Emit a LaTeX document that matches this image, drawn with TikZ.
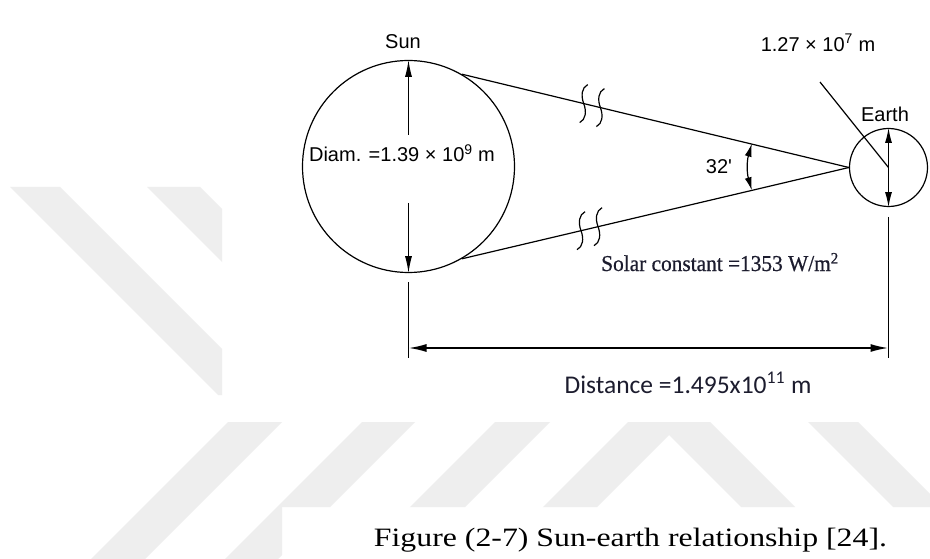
\documentclass[tikz,border=0pt]{standalone}
\usepackage{fontspec}
\setmainfont{Liberation Serif}
\newfontfamily\arialf{Liberation Sans}
\newfontfamily\calibf{Carlito}
\newfontfamily\capf[FakeStretch=1.2]{Liberation Serif}
\newfontfamily\solf[FakeStretch=0.94,FakeBold=0.6]{Liberation Serif}
\usetikzlibrary{arrows.meta}
\definecolor{wm}{HTML}{EEEEEE}
\definecolor{ink}{HTML}{1C1C2E}
\tikzset{
  lbl/.style={font=\arialf\fontsize{20}{24}\selectfont, inner sep=0pt, text=black},
  ln/.style={line width=1.2pt, black},
  dimarrow/.style={ln, -{Latex[length=17pt,width=7pt]}},
  brk/.pic={\draw[line width=1.2pt] (4,-19) .. controls (-2,-16) and (-3,-8) .. (0,0) .. controls (3,8) and (2,16) .. (-4,19);}
}
\begin{document}
\begin{tikzpicture}[x=1pt,y=-1pt]
\useasboundingbox (0,0) rectangle (930,559);
\fill[white] (0,0) rectangle (930,559);
% watermark
\begin{scope}
  \clip (0,187) rectangle (222,395);
  \fill[wm] (10,187) -- (60,187) -- (268,395) -- (218,395) -- cycle;
  \fill[wm] (147,187) -- (200,187) -- (408,395) -- (355,395) -- cycle;
\end{scope}
\begin{scope}
  \clip (0,422) rectangle (930,507) (0,507) rectangle (282,560);
  \fill[wm] (228,422) -- (282,422) -- (145,559) -- (91,559) -- cycle;
  \fill[wm] (362,422) -- (415,422) -- (278,559) -- (225,559) -- cycle;
  \fill[wm] (495,422) -- (550,422) -- (413,559) -- (358,559) -- cycle;
  \fill[wm] (669,381) -- (888,600) -- (834,600) -- (669,435) -- (504,600) -- (450,600) -- cycle;
  \fill[wm] (808,422) -- (858,422) -- (995,559) -- (945,559) -- cycle;
\end{scope}

% bodies
\node[ln, draw, circle, minimum size=212pt, inner sep=0pt] (sun) at (408.5,166.5) {};
\node[ln, draw, circle, minimum size=78pt, inner sep=0pt] (earth) at (888.5,167.5) {};
\coordinate (apex) at (earth.west);

% labels
\node[lbl] (sunlbl) at (403,42) {Sun};
\node[lbl] (diam) at (402,153) {Diam. =1.39 × 10\textsuperscript{9} m};
\node[lbl] (earthlbl) at (885,114) {Earth};
\node[lbl] (elbl) at (818,43) {1.27 × 10\textsuperscript{7} m};
\node[lbl] (ang) at (719,167) {32\textquotesingle};
\node[font=\solf\fontsize{22.7}{26}\selectfont, text=ink, inner sep=0pt, anchor=base] (solar) at (720,271) {Solar constant =1353 W/m\textsuperscript{2}};
\node[font=\calibf\fontsize{25.5}{30}\selectfont, text=ink, inner sep=0pt, anchor=base] (dist) at (688,393) {Distance =1.495x10\textsuperscript{11} m};
\node[font=\capf\fontsize{26.5}{32}\selectfont, inner sep=0pt, anchor=base] (cap) at (630.5,546) {Figure (2-7) Sun-earth relationship [24].};

% sun diameter arrows
\coordinate (d1) at (408.5,135);
\coordinate (d2) at (408.5,203);
\draw[dimarrow] (d1) -- (sun.north);
\draw[dimarrow] (d2) -- (sun.south);

% tangent lines
\draw[ln] (sun.60) -- (apex) coordinate[pos=0.315] (b1) coordinate[pos=0.358] (b2);
\draw[ln] (sun.-60) -- (apex) coordinate[pos=0.308] (b3) coordinate[pos=0.352] (b4);
\pic at (b1) {brk};
\pic at (b2) {brk};
\pic at (b3) {brk};
\pic at (b4) {brk};

% angle arc
\coordinate (a1) at (751.8,143.7);
\coordinate (a2) at (751.8,190.3);
\draw[ln, {Latex[length=13pt,width=7pt]}-{Latex[length=13pt,width=7pt]}] (a1) to[bend right=16] (a2);

% earth diameter
\draw[ln, -{Latex[length=15pt,width=7pt]}] (earth.center) -- (earth.north);
\draw[ln, -{Latex[length=15pt,width=7pt]}] (earth.center) -- (earth.south);
\coordinate (ldr) at (820,82);
\draw[ln] (ldr) -- (earth.center);

% distance dimension
\coordinate (e1) at (408.5,282);
\coordinate (e2) at (408.5,358);
\coordinate (e3) at (888.5,217);
\coordinate (e4) at (888.5,358);
\draw[ln] (e1) -- (e2);
\draw[ln] (e3) -- (e4);
\coordinate (h1) at (408.5,348);
\coordinate (h2) at (888.5,348);
\draw[line width=1.8pt, {Latex[length=18pt,width=8pt]}-{Latex[length=18pt,width=8pt]}] (h1) -- (h2);
\end{tikzpicture}
\end{document}
